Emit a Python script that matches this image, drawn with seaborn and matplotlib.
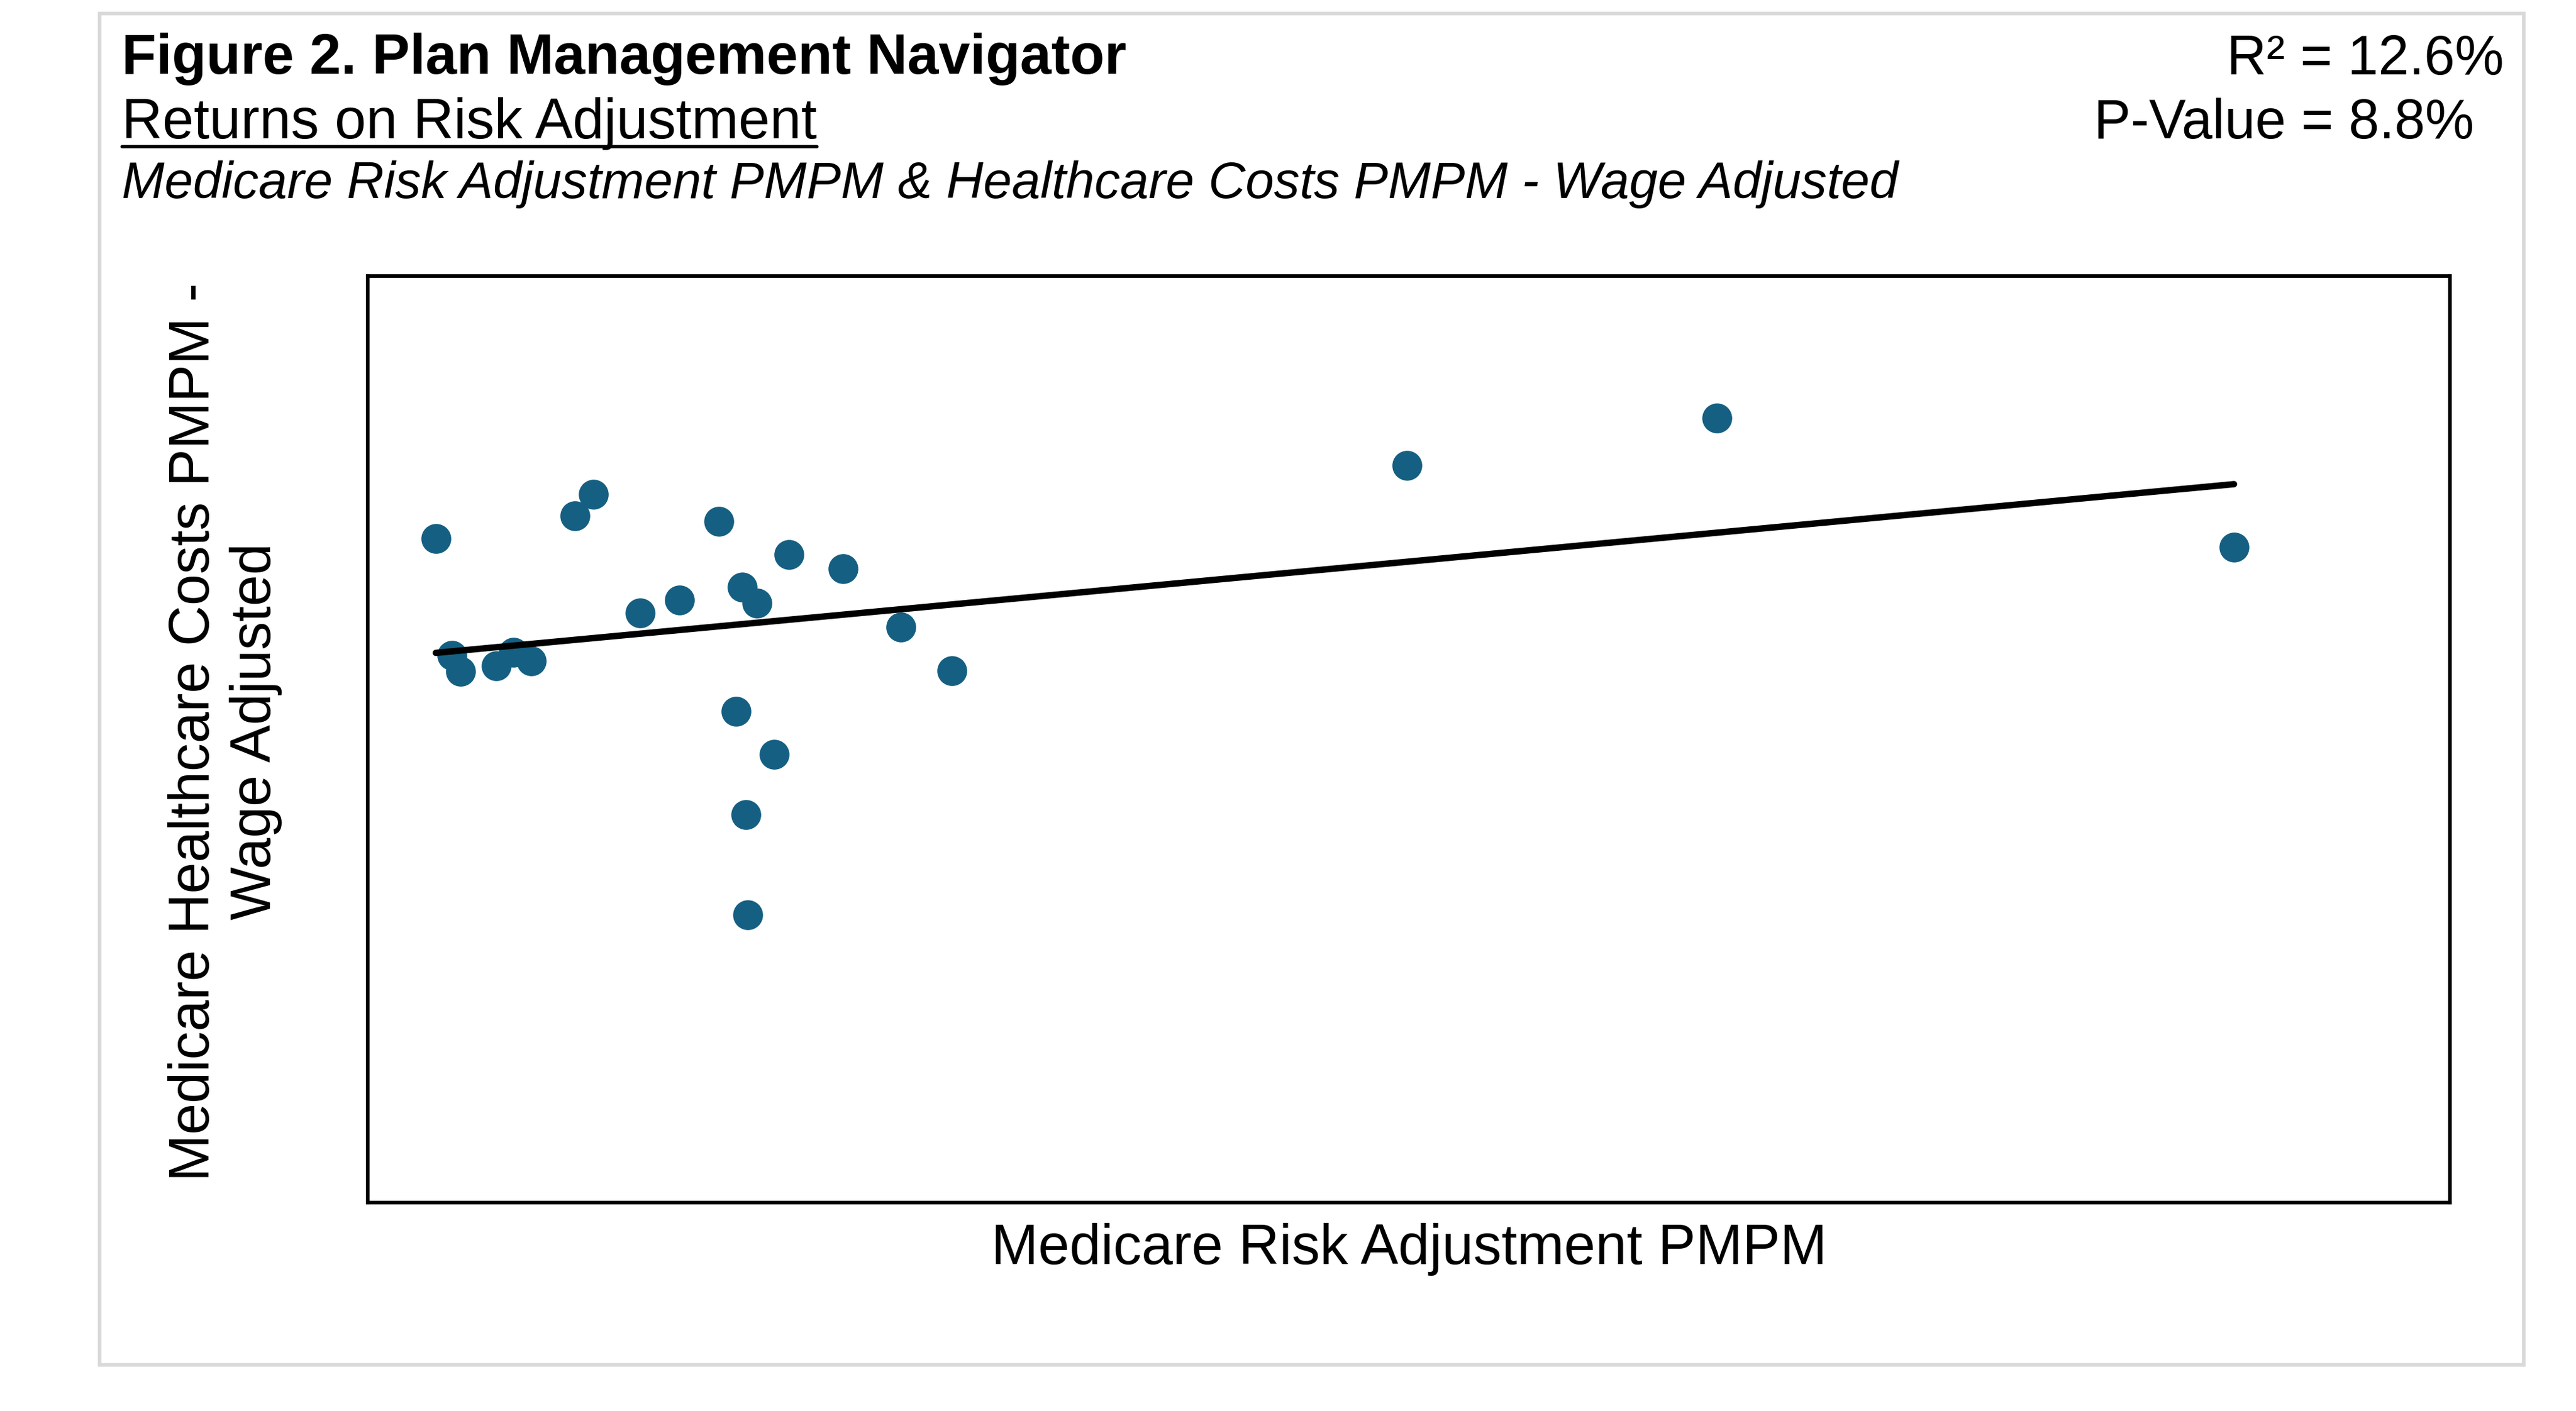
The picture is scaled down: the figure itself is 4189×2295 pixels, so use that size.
import numpy as np
import pandas as pd
import matplotlib
matplotlib.use("Agg")
import matplotlib.pyplot as plt
from matplotlib.patches import Rectangle
from matplotlib.lines import Line2D
import seaborn as sns

# ---- data (arbitrary units: axes have no ticks) ----
risk_adj_pmpm = [3.27, 4.06, 4.45, 6.17, 7.00, 7.85, 9.96, 10.85, 13.07, 14.96,
                 16.86, 18.00, 18.69, 17.69, 19.53, 18.17, 18.25, 20.24, 22.83,
                 25.61, 28.05, 49.90, 64.80, 89.63]
healthcare_costs_pmpm = [71.67, 59.08, 57.31, 57.94, 59.42, 58.46, 74.11, 76.44,
                         63.66, 65.01, 73.52, 66.45, 64.67, 53.03, 48.38, 41.86,
                         31.03, 69.92, 68.39, 62.13, 57.40, 79.56, 84.67, 70.74]

title = "Figure 2. Plan Management Navigator"
subtitle = "Returns on Risk Adjustment"
description = "Medicare Risk Adjustment PMPM & Healthcare Costs PMPM - Wage Adjusted"
r2_label = "R\u00b2 = 12.6%"
p_label = "P-Value = 8.8%"
x_label = "Medicare Risk Adjustment PMPM"
y_label = "Medicare Healthcare Costs PMPM -\nWage Adjusted"

sns.set_style("white")
plt.rcParams['font.family'] = ['Liberation Sans', 'DejaVu Sans']
plt.rcParams['text.color'] = 'black'
plt.rcParams['axes.labelcolor'] = 'black'

W, H, DPI = 4189, 2295, 300
fig = plt.figure(figsize=(W / DPI, H / DPI), dpi=DPI, facecolor='white')


def fx(px):
    return px / W


def fy(py):
    return 1 - py / H


AX_L, AX_R, AX_T, AX_B = 598, 3984, 449, 1956
ax = fig.add_axes([fx(AX_L), fy(AX_B), (AX_R - AX_L) / W, (AX_B - AX_T) / H])

df = pd.DataFrame({"x": risk_adj_pmpm, "y": healthcare_costs_pmpm})
sns.regplot(data=df, x="x", y="y", ax=ax, ci=None, truncate=True,
            scatter_kws=dict(s=136, color="#155f82", alpha=1, linewidths=0),
            line_kws=dict(color="black", lw=2.5, solid_capstyle="round"))
ax.set_xlim(0, 100)
ax.set_ylim(0, 100)
ax.set_xticks([])
ax.set_yticks([])
for s in ax.spines.values():
    s.set_visible(True)
    s.set_color('black')
    s.set_linewidth(1.4)

ax.set_xlabel(x_label, fontsize=22, va='baseline', color='black')
ax.xaxis.set_label_coords(0.5, (AX_B - 2056) / (AX_B - AX_T))
ax.set_ylabel(y_label, fontsize=22, va='center', linespacing=1.2, color='black')
ax.yaxis.set_label_coords((366 - AX_L) / (AX_R - AX_L), (AX_B - 1190) / (AX_B - AX_T))

# outer light-grey frame
fig.add_artist(Rectangle((fx(162), fy(2220)), (4104 - 162) / W, (2220 - 22) / H,
                         transform=fig.transFigure, fill=False,
                         edgecolor='#d9d9d9', lw=1.4))

fig.text(fx(198), fy(120), title, fontsize=22, fontweight='bold', va='baseline', ha='left')
sub = fig.text(fx(198), fy(225), subtitle, fontsize=22, va='baseline', ha='left')
fig.text(fx(198), fy(322), description, fontsize=20, style='italic', va='baseline', ha='left')
fig.text(fx(4072), fy(121), r2_label, fontsize=21.5, ha='right', va='baseline')
fig.text(fx(4023), fy(225), p_label, fontsize=21.5, ha='right', va='baseline')

fig.canvas.draw()
bb = sub.get_window_extent()
fig.add_artist(Line2D([bb.x0 / W, bb.x1 / W], [fy(238), fy(238)],
                      transform=fig.transFigure, color='black', lw=1.3))

fig.savefig('out.png', dpi=DPI, facecolor='white')
